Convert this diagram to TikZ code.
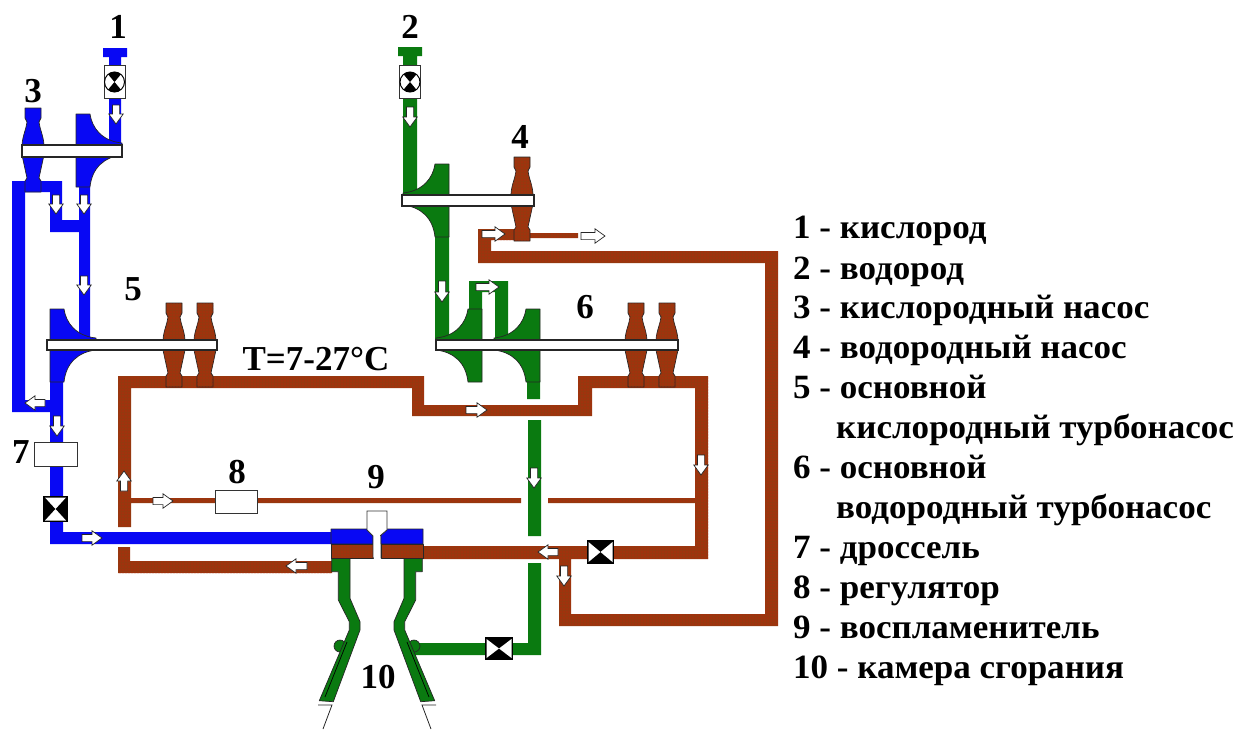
\documentclass[tikz,border=0pt]{standalone}
\usepackage{fontspec}
\setmainfont{Liberation Serif}
\newfontfamily\legendfont[FakeStretch=1.03]{Liberation Serif Bold}
\usetikzlibrary{patterns.meta}
\definecolor{pblue}{HTML}{0808F4}
\definecolor{pgreen}{HTML}{0A7A10}
\definecolor{pbrown}{HTML}{96380F}
\definecolor{pdot}{HTML}{C82208}
\tikzset{
  blueflow/.style={fill=pblue,draw=none},
  greenflow/.style={fill=pgreen,draw=none},
  brownflow/.style={fill=pbrown,draw=none,postaction={pattern={Dots[distance=3pt,radius=0.7pt]},pattern color=pdot}},
  outlined/.style={draw=black!85,line width=0.7pt,line join=round},
  shaftbar/.style={fill=white,draw=black!85,line width=1.1pt},
  whitebox/.style={fill=white,draw=black!80,line width=0.9pt},
  flowarrow/.style={fill=white,draw=black!85,line width=0.7pt,line join=miter},
  thinwire/.style={draw=black!85,line width=0.8pt},
  legendtext/.style={font=\fontsize{34}{34}\legendfont,anchor=base west,inner sep=0pt,text=black},
  numtext/.style={font=\fontsize{35}{35}\selectfont\bfseries,anchor=base,inner sep=0pt,text=black},
}
\newcommand{\flowmark}[4]{% tail x, tail y, angle, length
  \draw[flowarrow,shift={(#1,#2)},rotate=#3] (0,-3.6)--(#4-10,-3.6)--(#4-10,-7.2)--(#4,0)--(#4-10,7.2)--(#4-10,3.6)--(0,3.6)--cycle;}
\newcommand{\turbineshape}[3]{% centre x, top y, style
  \draw[#3,outlined,shift={(#1,#2)}]
    (-8,0)--(8,0)--(8,10)--(6,14) .. controls (6.5,20) and (10.5,28) .. (11,37)--(11,47)
    --(6,70)--(8,73)--(8,84)--(-8,84)--(-8,73)--(-6,70)
    --(-11,47)--(-11,37) .. controls (-10.5,28) and (-6.5,20) .. (-6,14)--(-8,10)--cycle;}
\newcommand{\impellershape}[4]{% x, y, dir, style
  \draw[#4,outlined,shift={(#1,#2)},xscale=#3]
    (0,0)--(14,0) .. controls (16,14) and (26,27) .. (46,29)--(46,31)--(0,31)--cycle;
  \draw[#4,outlined,shift={(#1,#2)},xscale=#3]
    (0,41)--(46,41) .. controls (28,43) and (16,54) .. (14,73)--(0,73)--cycle;}
\newcommand{\hvalve}[4]{% white left and right
  \fill[black] (#1,#2) rectangle (#3,#4);
  \fill[white] (#1+1.5,#2+2)--(#1/2+#3/2,#2/2+#4/2)--(#1+1.5,#4-2)--cycle;
  \fill[white] (#3-1.5,#2+2)--(#1/2+#3/2,#2/2+#4/2)--(#3-1.5,#4-2)--cycle;}
\newcommand{\vvalve}[4]{% white top and bottom
  \fill[black] (#1,#2) rectangle (#3,#4);
  \fill[white] (#1+2,#2+1.5)--(#1/2+#3/2,#2/2+#4/2)--(#3-2,#2+1.5)--cycle;
  \fill[white] (#1+2,#4-1.5)--(#1/2+#3/2,#2/2+#4/2)--(#3-2,#4-1.5)--cycle;}
\newcommand{\meter}[2]{% centre
  \draw[whitebox] (#1-10.5,#2-17) rectangle (#1+10.5,#2+16);
  \draw[fill=white,draw=black,line width=1pt] (#1,#2) circle (10);
  \fill[black] (#1,#2)--++(50:10) arc (50:130:10)--cycle;
  \fill[black] (#1,#2)--++(-50:10) arc (-50:-130:10)--cycle;}
\begin{document}
\begin{tikzpicture}[x=1pt,y=-1pt]
\useasboundingbox (0,0) rectangle (1237,729);
% ---- brown pipes
\path[brownflow]
  (118,376) rectangle (424,388)
  (118,376) rectangle (131,527)
  (118,547) rectangle (130,573)
  (118,561) rectangle (332,573)
  (412,376) rectangle (424,416)
  (412,405) rectangle (592,416)
  (578,376) rectangle (592,416)
  (578,376) rectangle (708,388)
  (695,376) rectangle (708,559)
  (420,546) rectangle (708,559)
  (559,546) rectangle (571,626)
  (559,614) rectangle (778,626)
  (765,251) rectangle (778,626)
  (478,251) rectangle (778,263)
  (478,229) rectangle (491,263)
  (478,229) rectangle (520,240)
  (520,233) rectangle (578,238)
  (130,498) rectangle (521,503)
  (548,498) rectangle (695,503);
% ---- blue pipes
\fill[blueflow]
  (109,48) rectangle (121,145)
  (103,48) rectangle (127,57)
  (12,181) rectangle (25,412)
  (12,181) rectangle (62,192)
  (50,181) rectangle (62,232)
  (50,220) rectangle (90,232)
  (79,187) rectangle (90,340)
  (12,400) rectangle (63,412)
  (50,380) rectangle (63,544)
  (50,532) rectangle (332,544);
% ---- green pipes
\fill[greenflow]
  (398,47) rectangle (422,56)
  (403,47) rectangle (417,196)
  (435,236) rectangle (449,340)
  (469,281) rectangle (482,310)
  (469,281) rectangle (508,292)
  (495,281) rectangle (508,340)
  (527,380) rectangle (540,399)
  (528,420) rectangle (541,536)
  (528,563) rectangle (541,655)
  (412,643) rectangle (541,655);
% ---- combustion chamber
\foreach \mirror/\off in {1/0,-1/754}{
  \begin{scope}[shift={(\off,0)},xscale=\mirror]
    \draw[greenflow,outlined] (340,646) ellipse (6 and 6);
    \draw[greenflow,outlined] (331.7,558)--(331.7,571.7)--(338.3,571.7)--(338.3,600)--(349.3,621.7)--(349.3,630)--(319.3,700.7)--(333.3,701.7)--(360,630)--(360,621.7)--(350,598.3)--(350,558)--cycle;
    \draw[black,line width=0.7pt] (347,642)--(325,697);
    \draw[thinwire] (318,705)--(332,705)--(323,729);
    \draw[blueflow,outlined] (331,529)--(369,529)--(373,535)--(373,544)--(331,544)--cycle;
    \path[brownflow] (331,544) rectangle (373,558);
    \draw[outlined] (331,544) rectangle (373,558);
  \end{scope}}
\draw[whitebox] (367,511)--(387,511)--(387,530)--(380,536)--(380,558)--(373,558)--(373,536)--(367,530)--cycle;
\fill[white] (373.5,531) rectangle (379.5,559);
% ---- impellers
\impellershape{76}{114}{1}{blueflow}
\impellershape{50}{309}{1}{blueflow}
\impellershape{449}{164}{-1}{greenflow}
\impellershape{482}{309}{-1}{greenflow}
\impellershape{540}{309}{-1}{greenflow}
% ---- turbines
\turbineshape{33}{108}{blueflow}
\turbineshape{174}{303}{brownflow}
\turbineshape{205}{303}{brownflow}
\turbineshape{522}{157}{brownflow}
\turbineshape{636}{303}{brownflow}
\turbineshape{667}{303}{brownflow}
% ---- shafts
\draw[shaftbar] (22,145) rectangle (122,157);
\draw[shaftbar] (47,340) rectangle (217,350);
\draw[shaftbar] (402,195) rectangle (534,206);
\draw[shaftbar] (436,340) rectangle (678,350);
% ---- meters, valves, boxes
\meter{114.5}{82}
\meter{410}{82}
\draw[whitebox] (34,442) rectangle (77,466);
\draw[whitebox] (215,490) rectangle (257,513);
\vvalve{43}{496}{68}{522}
\hvalve{587}{540}{614}{564}
\hvalve{485}{637}{513}{660}
% ---- flow arrows
\flowmark{116}{105}{-90}{19}
\flowmark{56}{195}{-90}{19}
\flowmark{84}{195}{-90}{19}
\flowmark{84}{276}{-90}{19}
\flowmark{45}{403}{180}{20}
\flowmark{57}{416}{-90}{20}
\flowmark{82}{538}{0}{20}
\flowmark{124}{491}{90}{20}
\flowmark{153}{501}{0}{20}
\flowmark{307}{566}{180}{21}
\flowmark{410}{107}{-90}{20}
\flowmark{482}{234}{0}{23}
\flowmark{581}{236}{0}{24}
\flowmark{442}{281}{-90}{21}
\flowmark{476}{287}{0}{23}
\flowmark{466}{410}{0}{21}
\flowmark{701}{455}{-90}{20}
\flowmark{534}{468}{-90}{20}
\flowmark{558}{552}{180}{20}
\flowmark{564}{566}{-90}{20}
% ---- numbers
\node[numtext] (n1) at (118,38) {1};
\node[numtext] (n2) at (410,38) {2};
\node[numtext] (n3) at (33,102) {3};
\node[numtext] (n4) at (520,148) {4};
\node[numtext] (n5) at (133,300) {5};
\node[numtext] (n6) at (585,318) {6};
\node[numtext] (n7) at (21,463) {7};
\node[numtext] (n8) at (237,483) {8};
\node[numtext] (n9) at (376,488) {9};
\node[numtext] (n10) at (378,688) {10};
\node[numtext] (ntemp) at (316,370) {T=7-27°C};
% ---- legend
\node[legendtext] (l1) at (793,238) {1 - кислород};
\node[legendtext] (l2) at (793,279) {2 - водород};
\node[legendtext] (l3) at (793,318) {3 - кислородный насос};
\node[legendtext] (l4) at (793,358) {4 - водородный насос};
\node[legendtext] (l5) at (793,398) {5 - основной};
\node[legendtext] (l5b) at (836,438) {кислородный турбонасос};
\node[legendtext] (l6) at (793,478) {6 - основной};
\node[legendtext] (l6b) at (836,518) {водородный турбонасос};
\node[legendtext] (l7) at (793,558) {7 - дроссель};
\node[legendtext] (l8) at (793,598) {8 - регулятор};
\node[legendtext] (l9) at (793,638) {9 - воспламенитель};
\node[legendtext] (l10) at (793,678) {10 - камера сгорания};
\end{tikzpicture}
\end{document}
